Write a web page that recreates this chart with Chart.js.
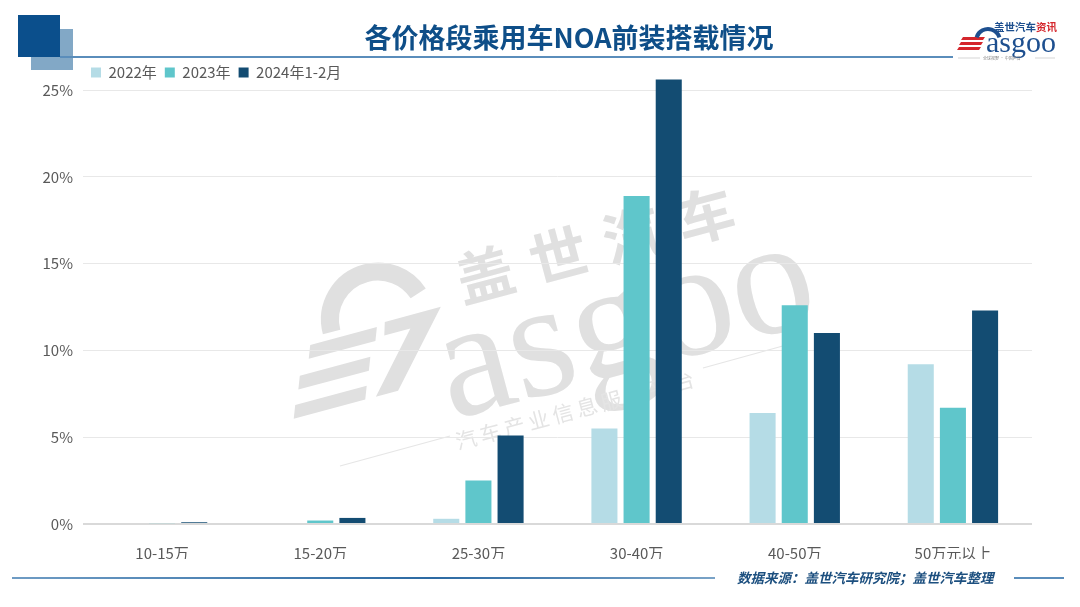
<!DOCTYPE html>
<html><head><meta charset="utf-8">
<script src="https://cdn.jsdelivr.net/npm/chart.js@4.4.1/dist/chart.umd.min.js"></script>
<style>html,body{margin:0;padding:0;background:#fff;}#wrap{width:1080px;height:607px;position:relative;}</style>
</head><body><div id="wrap"><canvas id="c" width="1080" height="607"></canvas></div>
<script>
const categories = ['10-15万','15-20万','25-30万','30-40万','40-50万','50万元以上'];
const seriesNames = ['2022年','2023年','2024年1-2月'];
const values2022 = [0, 0, 0.3, 5.5, 6.4, 9.2];
const values2023 = [0.05, 0.2, 2.5, 18.9, 12.6, 6.7];
const values2024 = [0.1, 0.35, 5.1, 25.6, 11.0, 12.3];
const yTickValues = [0, 5, 10, 15, 20, 25];
const titleText = '各价格段乘用车NOA前装搭载情况';
const sourceText = '数据来源：盖世汽车研究院；盖世汽车整理';
const wmCn = '盖世汽车';
const wmEn = 'asgoo';
const wmSub = '汽车产业信息服务平台';

const FONT = '"Noto Sans CJK SC", "Noto Sans", sans-serif';

const decor = {
  id: 'decor',
  beforeDraw(chart) {
    const ctx = chart.ctx;
    ctx.save();
    ctx.fillStyle = '#ffffff';
    ctx.fillRect(0, 0, chart.width, chart.height);
    const ang = -15 * Math.PI / 180;
    ctx.fillStyle = '#e0e0e0';
    ctx.strokeStyle = '#e0e0e0';
    ctx.save();
    ctx.translate(457, 282);
    ctx.rotate(ang);
    ctx.font = 'bold 58px ' + FONT;
    ctx.letterSpacing = '18px';
    ctx.fillText(wmCn, 0, 0);
    ctx.restore();
    ctx.save();
    ctx.translate(440, 378);
    ctx.rotate(ang);
    ctx.font = '165px "Liberation Serif", serif';
    ctx.fillText(wmEn, 0, 0);
    ctx.restore();
    // stylised G
    ctx.save();
    ctx.translate(300, 415);
    ctx.rotate(ang);
    ctx.lineWidth = 18;
    ctx.beginPath();
    ctx.arc(100, -72, 48, Math.PI * 1.0, Math.PI * 1.9);
    ctx.stroke();
    ctx.beginPath();
    ctx.moveTo(106, -68); ctx.lineTo(164, -68); ctx.lineTo(101, 2); ctx.lineTo(78, 2);
    ctx.lineTo(129, -55); ctx.lineTo(102, -55);
    ctx.closePath(); ctx.fill();
    const stripes = [[28, 97, -65], [10, 83, -38], [-2, 72, -11]];
    stripes.forEach(([x0, x1, y]) => {
      ctx.beginPath();
      ctx.moveTo(x0, y); ctx.lineTo(x1, y); ctx.lineTo(x1 - 5, y + 13); ctx.lineTo(x0 - 5, y + 13);
      ctx.closePath(); ctx.fill();
    });
    ctx.restore();
    ctx.save();
    ctx.translate(456, 442);
    ctx.rotate(ang);
    ctx.fillStyle = '#e4e4e4';
    ctx.font = '21px ' + FONT;
    ctx.letterSpacing = '4px';
    ctx.fillText(wmSub, 0, 0);
    ctx.restore();
    ctx.strokeStyle = '#e6e6e6';
    ctx.lineWidth = 1.2;
    ctx.beginPath(); ctx.moveTo(340, 466); ctx.lineTo(450, 436); ctx.stroke();
    ctx.beginPath(); ctx.moveTo(703, 368); ctx.lineTo(790, 344); ctx.stroke();
    ctx.restore();
  },
  afterDraw(chart) {
    const ctx = chart.ctx;
    ctx.save();
    ctx.fillStyle = '#82a8c6';
    ctx.fillRect(31, 29, 42, 41);
    ctx.fillStyle = '#0b4f8c';
    ctx.fillRect(18, 15, 42, 42);
    ctx.fillStyle = '#5a8dbb';
    ctx.fillRect(60, 56, 893, 2);
    ctx.fillStyle = '#0e4e88';
    ctx.font = 'bold 27px ' + FONT;
    ctx.textAlign = 'center';
    ctx.textBaseline = 'middle';
    ctx.fillText(titleText, 569, 38);
    ctx.textAlign = 'left';
    ctx.textBaseline = 'alphabetic';
    ctx.fillStyle = '#d4262c';
    for (let i = 0; i < 3; i++) {
      const y = 37 + i * 5;
      ctx.beginPath();
      ctx.moveTo(963 - i * 2, y); ctx.lineTo(985 - i * 2, y); ctx.lineTo(983 - i * 2, y + 3); ctx.lineTo(961 - i * 2, y + 3);
      ctx.closePath(); ctx.fill();
    }
    ctx.strokeStyle = '#1d4f8f';
    ctx.lineWidth = 4;
    ctx.beginPath(); ctx.arc(988, 41, 12, Math.PI * 1.1, Math.PI * 1.9); ctx.stroke();
    ctx.fillStyle = '#1d4f8f';
    ctx.font = '30px "Liberation Serif", serif';
    ctx.fillText('asgoo', 986, 52);
    ctx.font = 'bold 10.5px ' + FONT;
    ctx.fillText('盖世汽车', 994, 31);
    ctx.fillStyle = '#d4262c';
    ctx.fillText('资讯', 1036, 31);
    ctx.strokeStyle = '#bbbbbb';
    ctx.lineWidth = 0.6;
    ctx.beginPath(); ctx.moveTo(958, 58); ctx.lineTo(980, 58); ctx.moveTo(1035, 58); ctx.lineTo(1055, 58); ctx.stroke();
    ctx.fillStyle = '#888888';
    ctx.font = '4px ' + FONT;
    ctx.fillText('全球视野 · 中国声音', 983, 59.5);
    const g = ctx.createLinearGradient(10, 0, 716, 0);
    g.addColorStop(0, '#6f9cc4');
    g.addColorStop(0.6, '#2c6aa3');
    g.addColorStop(1, '#7aa3c7');
    ctx.fillStyle = g;
    ctx.fillRect(12, 577, 703, 2);
    ctx.fillStyle = '#5a8dbb';
    ctx.fillRect(1014, 577, 50, 2);
    ctx.fillStyle = '#1c4f7f';
    ctx.font = 'italic bold 13.5px ' + FONT;
    ctx.textBaseline = 'middle';
    ctx.fillText(sourceText, 737, 578);
    ctx.restore();
  }
};

new Chart(document.getElementById('c'), {
  type: 'bar',
  data: {
    labels: categories,
    datasets: [
      { label: seriesNames[0], data: values2022, backgroundColor: '#b5dce6', clip: false },
      { label: seriesNames[1], data: values2023, backgroundColor: '#5fc6cb', clip: false },
      { label: seriesNames[2], data: values2024, backgroundColor: '#134c72', clip: false }
    ]
  },
  options: {
    responsive: false,
    animation: false,
    devicePixelRatio: 1,
    categoryPercentage: 0.61,
    barPercentage: 0.81,
    layout: { padding: { left: 0, right: 48, top: 57, bottom: 48 } },
    plugins: {
      legend: {
        position: 'top',
        align: 'start',
        fullSize: false,
        labels: {
          boxWidth: 10, boxHeight: 10, padding: 8, color: '#595959',
          font: { family: FONT, size: 15 }
        }
      },
      tooltip: { enabled: false }
    },
    scales: {
      x: {
        grid: { display: false },
        border: { display: false },
        ticks: { color: '#595959', padding: 12, font: { family: FONT, size: 15 } },
        afterFit(s) { s.height = 35; }
      },
      y: {
        min: 0, max: 25.0,
        afterBuildTicks(s) { s.ticks = yTickValues.map(v => ({ value: v })); },
        afterFit(s) { s.width = 83; },
        border: { display: false },
        grid: {
          drawTicks: false,
          color: c => (c.tick && c.tick.value === 0) ? '#d9d9d9' : '#e8e8e8',
          lineWidth: c => (c.tick && c.tick.value === 0) ? 2 : 1
        },
        ticks: {
          color: '#595959', padding: 10, font: { family: FONT, size: 15 },
          callback: v => v + '%'
        }
      }
    }
  },
  plugins: [decor]
});
</script></body></html>
